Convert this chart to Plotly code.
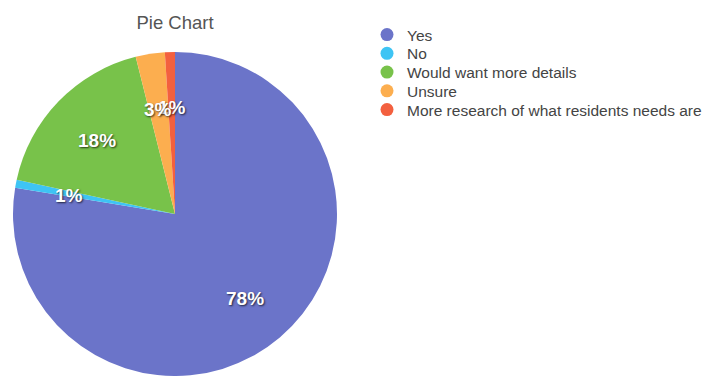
import math
import plotly.graph_objects as go

categories = ["Yes", "No", "Would want more details", "Unsure",
              "More research of what residents needs are"]
values = [77.6, 0.8, 17.7, 2.9, 1.0]
colors = ["#6b74c9", "#3ec4f4", "#78c24a", "#fcae4f", "#f3603f"]

# page body has an 8px margin, so the figure is drawn offset by 8px
OFF = 8
W, H = 711 - OFF, 376 - OFF
px0, px1 = 12 - OFF, 338 - OFF
py_top = 52 - OFF
dom_x = [px0 / W, px1 / W]
dom_y = [0, 1 - py_top / H]

FONT = "Liberation Sans, Arial, Helvetica"

fig = go.Figure()
fig.add_trace(go.Pie(
    labels=categories, values=values, sort=False, direction="clockwise",
    rotation=0, marker=dict(colors=colors, line=dict(width=0)),
    textinfo="none", hoverinfo="label+percent", showlegend=False,
    domain=dict(x=dom_x, y=dom_y),
))

# legend entries with circle markers, one legend per entry for tight spacing
legend_layouts = {}
for i, (c, col) in enumerate(zip(categories, colors)):
    lname = "legend" if i == 0 else f"legend{i + 1}"
    fig.add_trace(go.Scatter(x=[None], y=[None], mode="markers", name=c,
                             legend=lname,
                             marker=dict(color=col, size=13, symbol="circle")))
    item_y = 35 + i * 18.75 - OFF
    legend_layouts[lname] = dict(
        x=359 / W, xanchor="left", y=1 - item_y / H, yanchor="middle",
        font=dict(family=FONT, size=15.5, color="#444"),
        bgcolor="rgba(0,0,0,0)", borderwidth=0)

# percentage labels placed at slice mid-angles
total = sum(values)
cx = (dom_x[0] + dom_x[1]) / 2
cy = (dom_y[0] + dom_y[1]) / 2 - 2 / H
radius_px = min((px1 - px0), H - py_top) / 2
label_r = 0.667 * radius_px
annots = []
cum = 0.0
for v in values:
    mid = (cum + v / 2) / total * 2 * math.pi
    cum += v
    ax = cx + label_r * math.sin(mid) / W
    ay = cy + label_r * math.cos(mid) / H
    annots.append(dict(x=ax, y=ay, xref="paper", yref="paper",
                       xanchor="center", yanchor="middle",
                       text=f"{round(v / total * 100)}%", showarrow=False,
                       font=dict(family=FONT, size=19,
                                 color="white", weight="bold",
                                 shadow="1px 1px 2px rgba(0,0,0,0.7)")))
# earlier slices' labels are drawn on top
for a in reversed(annots):
    fig.add_annotation(**a)

fig.update_layout(
    width=W, height=H,
    margin=dict(l=0, r=0, t=0, b=0),
    paper_bgcolor="white", plot_bgcolor="white",
    title=dict(text="Pie Chart", x=(175 - OFF) / W, xanchor="center",
               y=1 - (23 - OFF) / H, yanchor="middle",
               font=dict(family=FONT, size=18.5, color="#555")),
    xaxis=dict(visible=False), yaxis=dict(visible=False),
    **legend_layouts,
)

fig.write_html("out.html")
